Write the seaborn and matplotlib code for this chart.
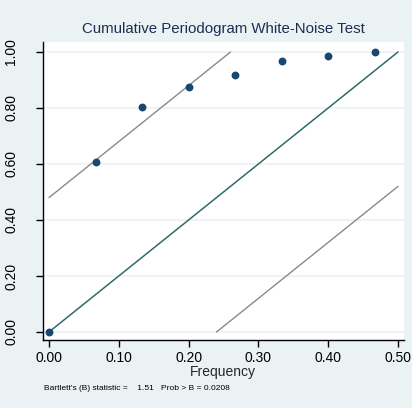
import matplotlib
matplotlib.use("Agg")
import matplotlib.pyplot as plt
import seaborn as sns
import numpy as np
import pandas as pd

# Cumulative periodogram values at the Fourier frequencies
freq = [0.0, 1/15, 2/15, 3/15, 4/15, 5/15, 6/15, 7/15]
cum_pgram = [0.0, 0.606, 0.803, 0.876, 0.918, 0.967, 0.987, 1.0]
band = 0.48  # Bartlett band half-width
bartlett_b = 1.51
prob_b = 0.0208
xticks = [0.0, 0.1, 0.2, 0.3, 0.4, 0.5]
yticks = [0.0, 0.2, 0.4, 0.6, 0.8, 1.0]

bg = "#eaf2f3"
navy = "#1a476f"
teal = "#2d6d66"
grey = "#8a8a8a"

sns.set_style("white")
plt.rcParams["font.family"] = ["Liberation Sans", "DejaVu Sans"]

fig = plt.figure(figsize=(4.12, 4.08), dpi=100, facecolor=bg)
ax = fig.add_axes([42.7/412, 1 - 340/408, (404 - 42.7)/412, (340 - 42)/408])
ax.set_facecolor("white")

df = pd.DataFrame({"freq": freq, "cum": cum_pgram})

# reference lines: diagonal and Bartlett bands
diag = pd.DataFrame({"x": [0.0, 0.5], "y": [0.0, 1.0]})
upper = pd.DataFrame({"x": [0.0, (1 - band) / 2], "y": [band, 1.0]})
lower = pd.DataFrame({"x": [band / 2, 0.5], "y": [0.0, 1.0 - band]})

sns.lineplot(data=upper, x="x", y="y", color=grey, lw=1.0, ax=ax)
sns.lineplot(data=lower, x="x", y="y", color=grey, lw=1.0, ax=ax)
sns.lineplot(data=diag, x="x", y="y", color=teal, lw=1.1, ax=ax)
sns.scatterplot(data=df, x="freq", y="cum", color=navy, s=32, edgecolor=navy,
                linewidth=0, zorder=5, ax=ax)

ax.set_xlim(-0.009, 0.5086)
ax.set_ylim(-0.0286, 1.0357)
ax.set_xticks(xticks)
ax.set_xticklabels([f"{v:.2f}" for v in xticks], fontsize=10)
ax.set_yticks(yticks)
ax.set_yticklabels([f"{v:.2f}" for v in yticks], fontsize=10, rotation=90, va="center")
ax.yaxis.grid(True, color=bg, lw=1.2)
ax.xaxis.grid(False)
ax.set_axisbelow(True)
for s in ["top", "right"]:
    ax.spines[s].set_visible(False)
for s in ["left", "bottom"]:
    ax.spines[s].set_color("black")
    ax.spines[s].set_linewidth(1.0)
ax.tick_params(axis="both", direction="out", length=5, width=1, color="black",
               bottom=True, left=True, labelcolor="black")
ax.tick_params(axis="x", pad=3)
ax.tick_params(axis="y", pad=12.5)
ax.set_xlabel("Frequency", fontsize=10, labelpad=0)
ax.set_ylabel("")

fig.text(223.5/412, 1 - 29.5/408, "Cumulative Periodogram White-Noise Test",
         ha="center", va="center", fontsize=10.8, color="#1e2d53")
fig.text(44/412, 1 - 389/408,
         f"Bartlett's (B) statistic =    {bartlett_b:.2f}   Prob > B = {prob_b:.4f}",
         ha="left", va="center", fontsize=6.0, color="black")

fig.savefig("out.png", dpi=100, facecolor=bg)
